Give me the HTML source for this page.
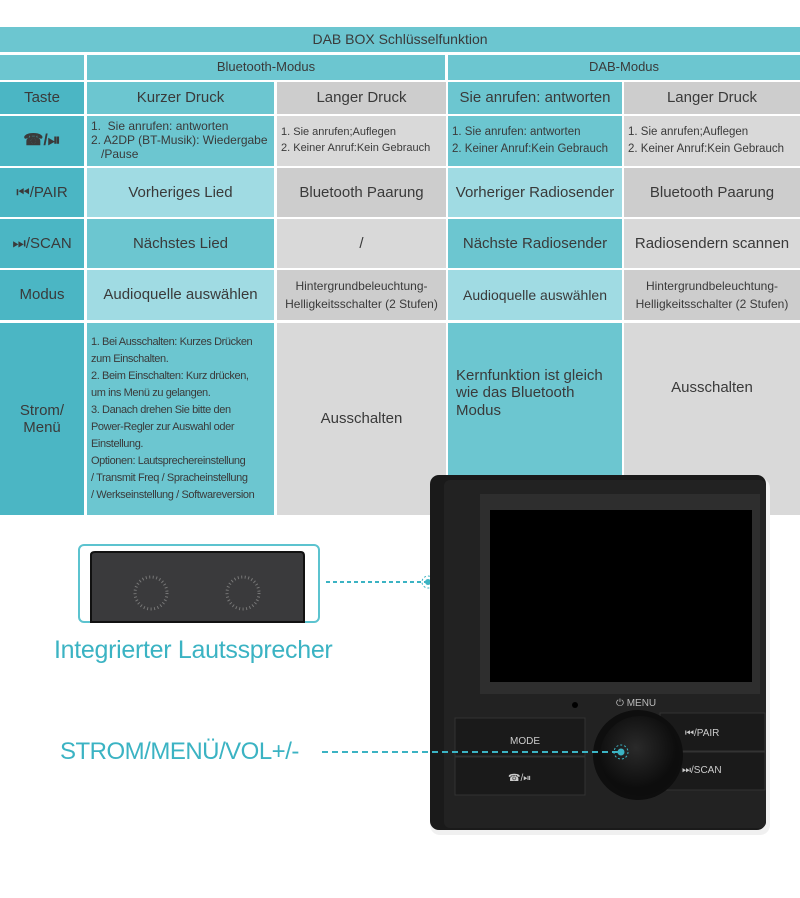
<!DOCTYPE html>
<html><head><meta charset="utf-8"><style>
body{margin:0;width:800px;height:898px;background:#fff;position:relative;overflow:hidden;font-family:"Liberation Sans",sans-serif;color:#3a3a3a}
.c{position:absolute;display:flex;align-items:center;justify-content:center;text-align:center;box-sizing:border-box;font-size:15px;line-height:1.15}
.t{background:#6cc6d0}.d{background:#4bb6c4}.l{background:#a0dbe3}.g{background:#d9d9d9}.g2{background:#cdcdcd}
.s{font-size:12px;text-align:left;justify-content:flex-start;padding-left:4px}
</style></head><body>
<div class="c t" style="left:0;top:27px;width:800px;height:25px;font-size:14px">DAB BOX Schlüsselfunktion</div>
<div class="c t" style="left:0;top:55px;width:84px;height:25px"></div>
<div class="c t" style="left:87px;top:55px;width:358px;height:25px;font-size:13px">Bluetooth-Modus</div>
<div class="c t" style="left:448px;top:55px;width:352px;height:25px;font-size:13px">DAB-Modus</div>

<div class="c d" style="left:0;top:82px;width:84px;height:32px">Taste</div>
<div class="c t" style="left:87px;top:82px;width:187px;height:32px">Kurzer Druck</div>
<div class="c g2" style="left:277px;top:82px;width:169px;height:32px">Langer Druck</div>
<div class="c t" style="left:448px;top:82px;width:174px;height:32px">Sie anrufen: antworten</div>
<div class="c g2" style="left:624px;top:82px;width:176px;height:32px">Langer Druck</div>

<div class="c d" style="left:0;top:116px;width:84px;height:50px;font-weight:bold;font-size:16px">☎/⏯</div>
<div class="c t s" style="left:87px;top:116px;width:187px;height:50px;font-size:12px">1.&nbsp; Sie anrufen: antworten<br>2. A2DP (BT-Musik): Wiedergabe<br>&nbsp;&nbsp;&nbsp;/Pause</div>
<div class="c g s" style="left:277px;top:116px;width:169px;height:50px;font-size:11px;line-height:1.45">1. Sie anrufen;Auflegen<br>2. Keiner Anruf:Kein Gebrauch</div>
<div class="c t s" style="left:448px;top:116px;width:174px;height:50px;font-size:11.5px;line-height:1.45">1. Sie anrufen: antworten<br>2. Keiner Anruf:Kein Gebrauch</div>
<div class="c g s" style="left:624px;top:116px;width:176px;height:50px;font-size:11.5px;line-height:1.45">1. Sie anrufen;Auflegen<br>2. Keiner Anruf:Kein Gebrauch</div>

<div class="c d" style="left:0;top:168px;width:84px;height:49px;font-size:15px">⏮/PAIR</div>
<div class="c l" style="left:87px;top:168px;width:187px;height:49px">Vorheriges Lied</div>
<div class="c g2" style="left:277px;top:168px;width:169px;height:49px">Bluetooth Paarung</div>
<div class="c l" style="left:448px;top:168px;width:174px;height:49px">Vorheriger Radiosender</div>
<div class="c g2" style="left:624px;top:168px;width:176px;height:49px">Bluetooth Paarung</div>

<div class="c d" style="left:0;top:219px;width:84px;height:49px;font-size:15px">⏭/SCAN</div>
<div class="c t" style="left:87px;top:219px;width:187px;height:49px">Nächstes Lied</div>
<div class="c g" style="left:277px;top:219px;width:169px;height:49px">/</div>
<div class="c t" style="left:448px;top:219px;width:174px;height:49px">Nächste Radiosender</div>
<div class="c g" style="left:624px;top:219px;width:176px;height:49px">Radiosendern scannen</div>

<div class="c d" style="left:0;top:270px;width:84px;height:50px">Modus</div>
<div class="c l" style="left:87px;top:270px;width:187px;height:50px">Audioquelle auswählen</div>
<div class="c g2" style="left:277px;top:270px;width:169px;height:50px;font-size:12px;line-height:1.5">Hintergrundbeleuchtung-<br>Helligkeitsschalter (2 Stufen)</div>
<div class="c l" style="left:448px;top:270px;width:174px;height:50px;font-size:14px">Audioquelle auswählen</div>
<div class="c g2" style="left:624px;top:270px;width:176px;height:50px;font-size:12px;line-height:1.5">Hintergrundbeleuchtung-<br>Helligkeitsschalter (2 Stufen)</div>

<div class="c d" style="left:0;top:323px;width:84px;height:192px;font-size:15px">Strom/<br>Menü</div>
<div class="c t s" style="left:87px;top:323px;width:187px;height:192px;font-size:11px;line-height:17px;letter-spacing:-0.4px;white-space:nowrap">1. Bei Ausschalten: Kurzes Drücken<br>zum Einschalten.<br>2. Beim Einschalten: Kurz drücken,<br>um ins Menü zu gelangen.<br>3. Danach drehen Sie bitte den<br>Power-Regler zur Auswahl oder<br>Einstellung.<br>Optionen: Lautsprechereinstellung<br>/ Transmit Freq / Spracheinstellung<br>/ Werkseinstellung / Softwareversion</div>
<div class="c g" style="left:277px;top:323px;width:169px;height:192px">Ausschalten</div>
<div class="c t" style="left:448px;top:323px;width:174px;height:192px;align-items:flex-start;padding-top:44px;justify-content:flex-start;text-align:left;padding-left:8px">Kernfunktion ist gleich<br>wie das Bluetooth<br>Modus</div>
<div class="c g" style="left:624px;top:323px;width:176px;height:192px;align-items:flex-start;padding-top:56px">Ausschalten</div>

<svg style="position:absolute;left:0;top:0" width="800" height="898">
<defs><radialGradient id="k" cx="45%" cy="40%"><stop offset="0" stop-color="#2a2a2a"/><stop offset="1" stop-color="#0d0d0d"/></radialGradient></defs>
<rect x="79" y="545" width="240" height="77" rx="5" fill="#fff" stroke="#5cc3cf" stroke-width="2"/>
<path d="M91 622 V555 Q91 552 95 552 H301 Q304 552 304 556 V622 Z" fill="#3a3a3c" stroke="#111" stroke-width="2"/>
<circle cx="151" cy="593" r="16" fill="none" stroke="#777" stroke-width="3" stroke-dasharray="1 2.5"/>
<circle cx="243" cy="593" r="16" fill="none" stroke="#777" stroke-width="3" stroke-dasharray="1 2.5"/>
<line x1="326" y1="582" x2="426" y2="582" stroke="#3bb3c3" stroke-width="2" stroke-dasharray="4 3"/>
<circle cx="428" cy="582" r="3" fill="#3bb3c3"/><circle cx="428" cy="582" r="6" fill="none" stroke="#3bb3c3" stroke-dasharray="2 2"/>
<rect x="430" y="478" width="340" height="357" rx="10" fill="#f0f0f0"/>
<rect x="430" y="475" width="336" height="355" rx="9" fill="#1a1a1a"/>
<rect x="444" y="480" width="322" height="348" rx="6" fill="#222"/>
<rect x="480" y="494" width="280" height="200" fill="#2e2e2e"/>
<rect x="490" y="510" width="262" height="172" fill="#000"/>
<rect x="455" y="718" width="130" height="38" fill="#1a1a1a" stroke="#333"/>
<rect x="455" y="757" width="130" height="38" fill="#1a1a1a" stroke="#333"/>
<rect x="660" y="713" width="105" height="38" fill="#1a1a1a" stroke="#333"/>
<rect x="660" y="752" width="105" height="38" fill="#1a1a1a" stroke="#333"/>
<circle cx="638" cy="755" r="45" fill="#0e0e0e"/>
<circle cx="640" cy="756" r="40" fill="url(#k)"/>
<circle cx="575" cy="705" r="3" fill="#000"/>
<text x="616" y="706" fill="#bbb" font-size="10" font-family="Liberation Sans">⏻ MENU</text>
<text x="510" y="744" fill="#ccc" font-size="10" font-family="Liberation Sans">MODE</text>
<text x="508" y="781" fill="#ccc" font-size="10" font-family="Liberation Sans">☎/⏯</text>
<text x="685" y="736" fill="#ccc" font-size="10" font-family="Liberation Sans">⏮/PAIR</text>
<text x="682" y="773" fill="#ccc" font-size="10" font-family="Liberation Sans">⏭/SCAN</text>
<line x1="322" y1="752" x2="618" y2="752" stroke="#3bb3c3" stroke-width="2" stroke-dasharray="6 4"/>
<circle cx="621" cy="752" r="3.5" fill="#3bb3c3"/><circle cx="621" cy="752" r="7" fill="none" stroke="#3bb3c3" stroke-dasharray="2 2"/>
</svg>
<div style="position:absolute;left:54px;top:636px;font-size:25px;color:#3bb3c3;letter-spacing:-0.3px">Integrierter Lautssprecher</div>
<div style="position:absolute;left:60px;top:738px;font-size:24px;color:#3bb3c3;letter-spacing:-0.5px">STROM/MENÜ/VOL+/-</div>
</body></html>
